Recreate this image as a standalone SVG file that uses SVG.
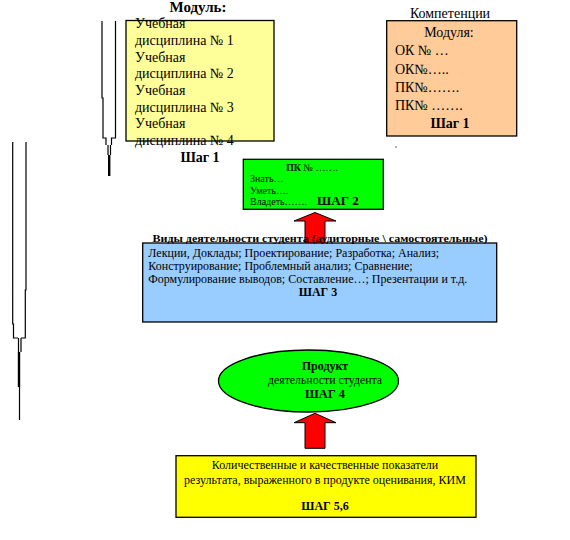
<svg xmlns="http://www.w3.org/2000/svg" width="570" height="540" viewBox="0 0 570 540">
<style>
text{font-family:"Liberation Serif","Times New Roman",serif;fill:#000}
.b{font-weight:bold}
.box{stroke:#000;stroke-width:1.3}
.ln{stroke:#000;fill:none;stroke-width:1.2}
.arr{fill:#FF0000;stroke:#000;stroke-width:1}
</style>
<rect width="570" height="540" fill="#fff"/>
<g id="decor-left">
<path class="ln" d="M102 21V98H103V138H106V145M115.5 21V138H111.5V145M108 145V155M110.5 145V155"/>
<path d="M109.2 155V176" stroke="#000" stroke-width="2.4"/>
<path class="ln" d="M12.7 142V324H13.5V338H18M26 142V290H25.3V338H21M18.5 338V352M21 338V352"/>
<path d="M19 352V387" stroke="#000" stroke-width="2.4"/>
<path d="M19.5 387V420" stroke="#000" stroke-width="1.2"/>
</g>
<g id="module">
<text x="198" y="12" text-anchor="middle" class="b" font-size="15">Модуль:</text>
<rect class="box" x="126" y="20.5" width="148" height="120.5" fill="#FFFF99"/>
<g font-size="14">
<text x="135" y="28">Учебная</text>
<text x="135" y="45">дисциплина № 1</text>
<text x="135" y="62">Учебная</text>
<text x="135" y="78">дисциплина № 2</text>
<text x="135" y="95">Учебная</text>
<text x="135" y="112">дисциплина № 3</text>
<text x="135" y="128">Учебная</text>
<text x="135" y="145">дисциплина № 4</text>
</g>
<text x="200" y="162" text-anchor="middle" class="b" font-size="14">Шаг 1</text>
</g>
<g id="competencies">
<text x="450" y="18" text-anchor="middle" font-size="14">Компетенции</text>
<rect class="box" x="386.7" y="20.7" width="130" height="115.3" fill="#FFCC99"/>
<g font-size="14">
<text x="449" y="37" text-anchor="middle">Модуля:</text>
<text x="395" y="55">ОК № …</text>
<text x="395" y="74">ОК№…..</text>
<text x="395" y="92">ПК№…….</text>
<text x="395" y="110">ПК№ …….</text>
</g>
<text x="450" y="128" text-anchor="middle" class="b" font-size="14">Шаг 1</text>
<circle cx="396" cy="147" r="0.7" fill="#333"/>
</g>
<g id="step2">
<rect class="box" x="243.3" y="159.3" width="140" height="50" fill="#00FF00"/>
<text x="312" y="171" text-anchor="middle" font-size="10"><tspan class="b">ПК</tspan> № …….</text>
<text x="250" y="182" font-size="10">Знать…</text>
<text x="250" y="194" font-size="10">Уметь….</text>
<text x="250" y="205" font-size="10">Владеть…….</text>
<text x="317" y="205" class="b" font-size="13">ШАГ 2</text>
</g>
<g id="connectors">
<path class="arr" d="M315 212.5L336 221H325V244H305V221H294Z"/>
<path class="arr" d="M315 413.3L336 422.7H325V448.3H305V422.7H294Z"/>
</g>
<g id="step3">
<rect class="box" x="142.7" y="243" width="354" height="79" fill="#99CCFF"/>
<text x="320" y="242" text-anchor="middle" class="b" font-size="11" textLength="335" lengthAdjust="spacingAndGlyphs">Виды деятельности студента (аудиторные \ самостоятельные)</text>
<g font-size="12">
<text x="148.3" y="257">Лекции, Доклады; Проектирование; Разработка; Анализ;</text>
<text x="148.3" y="270">Конструирование; Проблемный анализ;  Сравнение;</text>
<text x="148.3" y="283">Формулирование выводов; Составление…; Презентации и т.д.</text>
</g>
<text x="318" y="296" text-anchor="middle" class="b" font-size="12">ШАГ 3</text>
</g>
<g id="step4">
<ellipse class="box" cx="308.5" cy="381" rx="90" ry="31" fill="#00FF00"/>
<text x="325" y="370" text-anchor="middle" class="b" font-size="12">Продукт</text>
<text x="325" y="384" text-anchor="middle" font-size="11.5" textLength="114" lengthAdjust="spacingAndGlyphs">деятельности студента</text>
<text x="325" y="398" text-anchor="middle" class="b" font-size="12.5">ШАГ 4</text>
</g>
<g id="step5">
<rect class="box" x="176" y="455.7" width="300" height="61.6" fill="#FFFF00"/>
<g font-size="12" text-anchor="middle">
<text x="325" y="469">Количественные и качественные показатели</text>
<text x="325" y="484">результата, выраженного в продукте оценивания, КИМ</text>
</g>
<text x="325" y="510" text-anchor="middle" class="b" font-size="12">ШАГ 5,6</text>
</g>
</svg>
